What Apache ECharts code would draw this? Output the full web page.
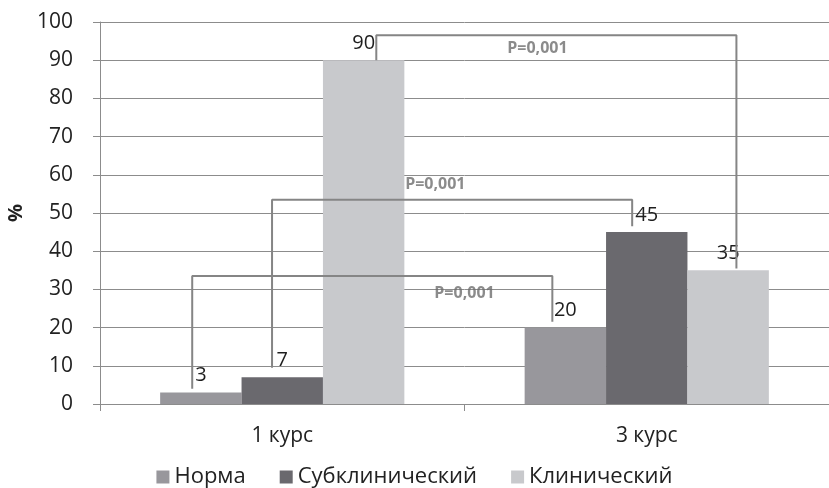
<!DOCTYPE html>
<html>
<head>
<meta charset="utf-8">
<script src="https://cdn.jsdelivr.net/npm/echarts@6/dist/echarts.min.js"></script>
<style>
  html, body { margin: 0; padding: 0; background: #fff; }
  #chart { width: 829px; height: 488px; }
</style>
</head>
<body>
<div id="chart"></div>
<script>
var categories = ['1 курс', '3 курс']
var seriesNames = ['Норма', 'Субклинический', 'Клинический']
var norma = [3, 20]
var subclin = [7, 45]
var clin = [90, 35]
var yTicks = [0, 10, 20, 30, 40, 50, 60, 70, 80, 90, 100]

// brackets between groups, x on a 0..2 helper axis (one unit per category)
var bracketFrom = [[0.253, 4], [0.472, 9.5], [0.758, 90]]
var bracketTo = [[1.241, 21.5], [1.46, 46.5], [1.746, 35.5]]
var bracketTop = [33.5, 53.5, 96.5]
var pLabels = ['P=0,001', 'P=0,001', 'P=0,001']
var pLabelPos = [[1.0, 29], [0.92, 57.5], [1.2, 93]]

var colors = ['#98979c', '#6a696e', '#c8c9cc']
var font = '"Open Sans", sans-serif'

function bracket_series(i) {
    var a = bracketFrom[i], b = bracketTo[i], t = bracketTop[i]
    return {
        type: 'line',
        xAxisIndex: 1,
        data: [[a[0], a[1]], [a[0], t], [b[0], t], [b[0], b[1]]],
        symbol: 'none',
        silent: true,
        z: 5,
        lineStyle: { color: '#858585', width: 2 }
    }
}

function bar_series(name, data, color) {
    return {
        name: name,
        type: 'bar',
        data: data,
        barGap: '0%',
        barCategoryGap: '33%',
        itemStyle: { color: color },
        label: {
            show: true,
            position: 'top',
            distance: 7,
            color: '#1e1e1e',
            fontSize: 20,
            fontFamily: font
        }
    }
}

var chart = echarts.init(document.getElementById('chart'))

var series = [
    bar_series(seriesNames[0], norma, colors[0]),
    bar_series(seriesNames[1], subclin, colors[1]),
    bar_series(seriesNames[2], clin, colors[2])
]
for (var i = 0; i < bracketFrom.length; i++) {
    series.push(bracket_series(i))
}
series.push({
    type: 'scatter',
    xAxisIndex: 1,
    symbolSize: 0,
    silent: true,
    z: 6,
    data: pLabelPos.map(function(p, i) { return { value: p, name: pLabels[i] } }),
    label: {
        show: true,
        position: 'inside',
        formatter: '{b}',
        color: '#6e6e6e',
        fontSize: 16,
        fontWeight: 'bold',
        fontFamily: font
    }
})

chart.setOption({
    animation: false,
    color: colors,
    grid: { left: 100, right: 0, top: 22, bottom: 84, containLabel: false, outerBoundsMode: 'none' },
    legend: {
        data: seriesNames,
        top: 461,
        left: 'center',
        itemWidth: 13,
        itemHeight: 13,
        itemGap: 34,
        icon: 'rect',
        textStyle: { fontSize: 22, color: '#222', fontFamily: font }
    },
    xAxis: [{
        type: 'category',
        data: categories,
        axisLine: { lineStyle: { color: '#8c8c8c', width: 1 } },
        axisTick: { show: true, length: 7, lineStyle: { color: '#8c8c8c' } },
        axisLabel: { fontSize: 21, color: '#222', margin: 22, fontFamily: font }
    }, {
        type: 'value',
        min: 0,
        max: 2,
        show: false
    }],
    yAxis: {
        type: 'value',
        min: yTicks[0],
        max: yTicks[yTicks.length - 1],
        interval: 10,
        name: '%',
        nameLocation: 'middle',
        nameRotate: 90,
        nameGap: 70,
        nameTextStyle: { fontSize: 20, color: '#222', fontWeight: 'bold', fontFamily: font },
        axisLine: { show: true, lineStyle: { color: '#8c8c8c' } },
        axisTick: { show: true, length: 7, lineStyle: { color: '#8c8c8c' } },
        axisLabel: { fontSize: 21, color: '#222', margin: 27, fontFamily: font },
        splitLine: { lineStyle: { color: '#8c8c8c', width: 1 } }
    },
    series: series
})
</script>
</body>
</html>
